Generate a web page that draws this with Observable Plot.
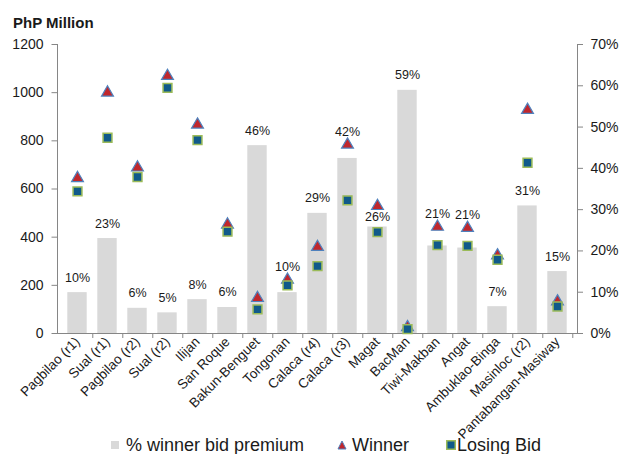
<!DOCTYPE html>
<html><head><meta charset="utf-8">
<script src="https://cdn.jsdelivr.net/npm/d3@7"></script>
<script src="https://cdn.jsdelivr.net/npm/@observablehq/plot@0.6"></script>
<style>
html,body{margin:0;padding:0;background:#fff;}
#wrap{position:relative;width:622px;height:454px;overflow:hidden;font-family:"Liberation Sans",Arial,sans-serif;color:#1a1a1a;}
#title{position:absolute;left:13px;top:14px;font-size:15px;line-height:18px;font-weight:bold;}
#chart{position:absolute;left:0;top:36px;}
.lg{position:absolute;top:435px;font-size:18px;line-height:20px;white-space:nowrap;}
.mk{position:absolute;}
</style></head><body>
<div id="wrap">
  <div id="title">PhP Million</div>
  <div id="chart"></div>
  <svg class="mk" style="left:111px;top:441px" width="8" height="8"><rect x="0" y="0" width="8" height="8" fill="#d9d9d9"/></svg>
  <div class="lg" style="left:126px">% winner bid premium</div>
  <svg class="mk" style="left:337px;top:440px" width="10" height="10"><polygon points="5,1 9,9 1,9" fill="#c0272d" stroke="#4f81bd" stroke-width="1"/></svg>
  <div class="lg" style="left:352px">Winner</div>
  <svg class="mk" style="left:446px;top:440px" width="10" height="10"><rect x="0.75" y="0.75" width="8.5" height="8.5" fill="#105a8a" stroke="#9bbb59" stroke-width="1.5"/></svg>
  <div class="lg" style="left:457px">Losing Bid</div>
</div>
<script>
const categories = ["Pagbilao (r1)","Sual (r1)","Pagbilao (r2)","Sual (r2)","Ilijan","San Roque","Bakun-Benguet","Tongonan","Calaca (r4)","Calaca (r3)","Magat","BacMan","Tiwi-Makban","Angat","Ambuklao-Binga","Masinloc (r2)","Pantabangan-Masiway"];
const winner  = [645, 1000, 689, 1069, 867, 452, 147, 223, 359, 784, 529, 26, 443, 438, 324, 928, 133];
const losing  = [590, 813, 650, 1020, 803, 423, 100, 200, 280, 553, 421, 18, 367, 364, 306, 709, 112];
const premium = [0.099, 0.23, 0.061, 0.05, 0.082, 0.063, 0.455, 0.099, 0.291, 0.424, 0.258, 0.589, 0.212, 0.207, 0.065, 0.309, 0.15];
const leftTicks = [0, 200, 400, 600, 800, 1000, 1200];
const rightTicks = [0, 0.1, 0.2, 0.3, 0.4, 0.5, 0.6, 0.7];
// where the premium label sits: above the bar (default), above the winner marker, or close to the bar
const labelAboveWinner = ["Tongonan", "Calaca (r3)", "Tiwi-Makban", "Angat"];
const labelTight = ["Magat"];

const yMax = 1200, pctMax = 0.7, k = yMax / pctMax;
const rows = categories.map((c, i) => ({cat: c, winner: winner[i], losing: losing[i], premium: premium[i]}));
const W = 622, ML = 57, MR = 45;
const step = (W - ML - MR) / categories.length;
const pct = d3.format(".0%");
const axisColor = "#868686";
const onWinner = d => labelAboveWinner.includes(d.cat);
const tight = d => labelTight.includes(d.cat);
const onBar = d => !onWinner(d) && !tight(d);

const chart = Plot.plot({
  width: W, height: 392, marginTop: 8, marginBottom: 95, marginLeft: ML, marginRight: MR,
  style: {fontFamily: "Liberation Sans, Arial, sans-serif", fontSize: "14px", color: "#1a1a1a", background: "white", overflow: "visible"},
  x: {domain: categories, padding: 0, label: null},
  y: {domain: [0, yMax], label: null},
  marks: [
    Plot.barY(rows, {x: "cat", y: d => d.premium * k, fill: "#d9d9d9", insetLeft: 5.3, insetRight: 5.3}),
    Plot.text(rows, {filter: onBar, x: "cat", y: d => d.premium * k, text: d => pct(d.premium), lineAnchor: "middle", dy: -15, fontSize: 12.5, fill: "#1a1a1a"}),
    Plot.text(rows, {filter: tight, x: "cat", y: d => d.premium * k, text: d => pct(d.premium), lineAnchor: "middle", dy: -10, fontSize: 12.5, fill: "#1a1a1a"}),
    Plot.text(rows, {filter: onWinner, x: "cat", y: "winner", text: d => pct(d.premium), lineAnchor: "middle", dy: -13, fontSize: 12.5, fill: "#1a1a1a"}),
    Plot.ruleY([0], {stroke: axisColor}),
    Plot.frame({anchor: "left", stroke: axisColor}),
    Plot.frame({anchor: "right", stroke: axisColor}),
    Plot.axisY({anchor: "left", ticks: leftTicks, tickFormat: d3.format("d"), tickSize: 5.5, tickPadding: 8.5, label: null, fontSize: 14, stroke: axisColor, fill: "#1a1a1a"}),
    Plot.axisY({anchor: "right", ticks: rightTicks.map(v => v * k), tickFormat: d => pct(d / k), tickSize: 5, tickPadding: 8, label: null, fontSize: 14, stroke: axisColor, fill: "#1a1a1a"}),
    Plot.axisX({tickSize: 0, tickRotate: -45, tickPadding: 6, fontSize: 13.5, label: null, fill: "#1a1a1a"}),
    Plot.axisX({tickSize: 5, tickFormat: () => "", dx: step / 2, label: null, stroke: axisColor}),
    Plot.dot(rows, {x: "cat", y: "winner", symbol: "triangle", r: 4.4, fill: "#c0272d", stroke: "#4f81bd", strokeWidth: 1.2}),
    Plot.dot(rows, {x: "cat", y: "losing", symbol: "square", r: 5, fill: "#105a8a", stroke: "#9bbb59", strokeWidth: 1.5})
  ]
});
document.getElementById("chart").appendChild(chart);
</script>
</body></html>
